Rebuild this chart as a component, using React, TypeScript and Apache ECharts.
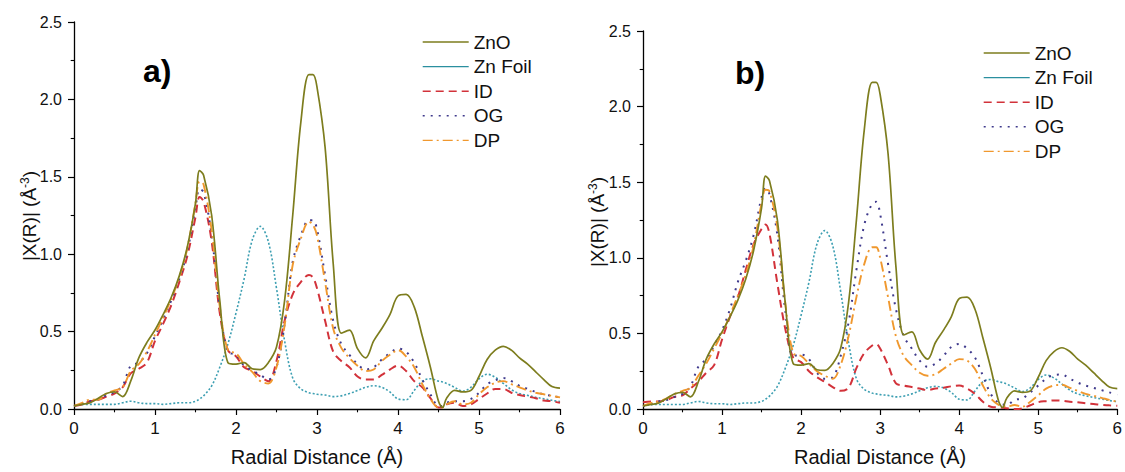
import React, { useEffect, useRef } from "react";
import * as echarts from "echarts";

// Radial distance grid (Å)
const R = [
  0.0, 0.1, 0.2, 0.3, 0.4, 0.5, 0.6, 0.7, 0.8, 0.9,
  1.0, 1.1, 1.2, 1.3, 1.4, 1.5, 1.55, 1.6, 1.7, 1.8, 1.9,
  2.0, 2.1, 2.2, 2.3, 2.4, 2.5, 2.6, 2.7, 2.8, 2.9, 2.95,
  3.0, 3.1, 3.2, 3.3, 3.4, 3.5, 3.6, 3.7, 3.8, 3.9,
  4.0, 4.1, 4.2, 4.3, 4.4, 4.5, 4.55, 4.6, 4.7, 4.8, 4.9,
  5.0, 5.1, 5.2, 5.3, 5.4, 5.5, 5.6, 5.7, 5.8, 5.9,
  6.0,
];

// Reference spectra (identical in both panels)
const ZNO = [
  0.02, 0.03, 0.04, 0.07, 0.10, 0.11, 0.08, 0.18, 0.33, 0.43,
  0.51, 0.61, 0.72, 0.86, 1.05, 1.33, 1.54, 1.51, 1.25, 0.70, 0.30,
  0.29, 0.30, 0.26, 0.255, 0.30, 0.40, 0.70, 1.25, 1.85, 2.16, 2.16,
  2.08, 1.69, 0.94, 0.49, 0.51, 0.39, 0.33, 0.44, 0.52, 0.61,
  0.73, 0.74, 0.66, 0.47, 0.27, 0.05, 0.01, 0.07, 0.12, 0.11, 0.12,
  0.21, 0.32, 0.38, 0.405, 0.38, 0.33, 0.29, 0.24, 0.19, 0.145,
  0.135,
];
const ZN_FOIL = [
  0.02, 0.03, 0.03, 0.03, 0.03, 0.03, 0.04, 0.05, 0.04, 0.035,
  0.035, 0.03, 0.035, 0.04, 0.04, 0.05, 0.065, 0.085, 0.15, 0.27, 0.42,
  0.62, 0.84, 1.09, 1.18, 1.08, 0.78, 0.44, 0.20, 0.13, 0.105, 0.10,
  0.095, 0.09, 0.08, 0.085, 0.10, 0.12, 0.14, 0.15, 0.14, 0.11,
  0.065, 0.06, 0.12, 0.18, 0.195, 0.18, 0.175, 0.165, 0.14, 0.115, 0.14,
  0.195, 0.225, 0.205, 0.165, 0.125, 0.10, 0.088, 0.076, 0.066, 0.056,
  0.048,
];

// Panel a)
const ID_A = [
  0.02, 0.03, 0.05, 0.06, 0.08, 0.10, 0.14, 0.23, 0.26, 0.30,
  0.44, 0.55, 0.67, 0.82, 0.99, 1.24, 1.37, 1.34, 1.08, 0.62, 0.38,
  0.34, 0.27, 0.245, 0.21, 0.18, 0.31, 0.57, 0.74, 0.82, 0.865, 0.85,
  0.78, 0.57, 0.37, 0.31, 0.27, 0.21, 0.19, 0.19, 0.22, 0.255,
  0.28, 0.245, 0.18, 0.14, 0.07, 0.01, 0.01, 0.03, 0.04, 0.02, 0.03,
  0.065, 0.10, 0.13, 0.13, 0.105, 0.09, 0.08, 0.07, 0.055, 0.05,
  0.04,
];
const OG_A = [
  0.02, 0.03, 0.05, 0.06, 0.09, 0.11, 0.15, 0.28, 0.30, 0.36,
  0.47, 0.58, 0.70, 0.84, 1.02, 1.30, 1.42, 1.40, 1.12, 0.65, 0.37,
  0.35, 0.28, 0.25, 0.22, 0.19, 0.27, 0.55, 0.95, 1.12, 1.22, 1.22,
  1.16, 0.865, 0.57, 0.42, 0.35, 0.29, 0.255, 0.27, 0.32, 0.36,
  0.39, 0.37, 0.30, 0.19, 0.095, 0.02, 0.02, 0.04, 0.05, 0.05, 0.065,
  0.105, 0.16, 0.185, 0.20, 0.18, 0.15, 0.13, 0.11, 0.095, 0.085,
  0.075,
];
const DP_A = [
  0.02, 0.04, 0.06, 0.06, 0.10, 0.12, 0.14, 0.245, 0.29, 0.37,
  0.48, 0.59, 0.71, 0.85, 1.04, 1.33, 1.47, 1.45, 1.15, 0.66, 0.38,
  0.36, 0.29, 0.24, 0.18, 0.165, 0.27, 0.54, 0.93, 1.10, 1.21, 1.19,
  1.12, 0.82, 0.52, 0.395, 0.33, 0.28, 0.245, 0.255, 0.31, 0.35,
  0.38, 0.34, 0.27, 0.16, 0.065, 0.01, 0.01, 0.03, 0.05, 0.03, 0.04,
  0.095, 0.14, 0.17, 0.18, 0.16, 0.14, 0.12, 0.105, 0.095, 0.085,
  0.075,
];

// Panel b)
const ID_B = [
  0.045, 0.05, 0.05, 0.06, 0.08, 0.09, 0.135, 0.18, 0.24, 0.29,
  0.46, 0.61, 0.74, 0.92, 1.09, 1.19, 1.22, 1.16, 0.83, 0.53, 0.34,
  0.31, 0.25, 0.21, 0.18, 0.145, 0.12, 0.14, 0.27, 0.37, 0.42, 0.43,
  0.40, 0.29, 0.17, 0.155, 0.145, 0.135, 0.125, 0.135, 0.14, 0.15,
  0.155, 0.135, 0.10, 0.048, 0.015, 0.01, 0.008, 0.005, 0.0, 0.005, 0.025,
  0.045, 0.052, 0.057, 0.055, 0.048, 0.045, 0.037, 0.033, 0.028, 0.024,
  0.022,
];
const OG_B = [
  0.02, 0.03, 0.05, 0.06, 0.08, 0.10, 0.15, 0.28, 0.33, 0.42,
  0.52, 0.66, 0.84, 0.98, 1.15, 1.40, 1.46, 1.42, 1.15, 0.65, 0.35,
  0.36, 0.33, 0.24, 0.20, 0.21, 0.35, 0.57, 0.92, 1.22, 1.36, 1.37,
  1.29, 0.96, 0.66, 0.48, 0.40, 0.32, 0.28, 0.30, 0.35, 0.41,
  0.43, 0.40, 0.34, 0.22, 0.10, 0.037, 0.03, 0.026, 0.06, 0.07, 0.11,
  0.155, 0.20, 0.225, 0.228, 0.20, 0.175, 0.155, 0.14, 0.125, 0.11,
  0.095,
];
const DP_B = [
  0.02, 0.04, 0.05, 0.07, 0.10, 0.12, 0.14, 0.22, 0.30, 0.40,
  0.50, 0.62, 0.75, 0.89, 1.08, 1.36, 1.45, 1.44, 1.20, 0.70, 0.37,
  0.35, 0.30, 0.25, 0.22, 0.20, 0.29, 0.48, 0.74, 0.96, 1.07, 1.07,
  1.00, 0.74, 0.48, 0.35, 0.29, 0.24, 0.22, 0.23, 0.265, 0.30,
  0.33, 0.32, 0.265, 0.155, 0.07, 0.026, 0.02, 0.015, 0.026, 0.015, 0.048,
  0.09, 0.135, 0.155, 0.16, 0.14, 0.12, 0.10, 0.087, 0.074, 0.06,
  0.048,
];

const SERIES_NAMES = ["ZnO", "Zn Foil", "ID", "OG", "DP"];
const PANEL_LABELS = ["a)", "b)"];
const X_TITLE = "Radial Distance (Å)";

const FONT = '"Liberation Sans", Arial, Helvetica, sans-serif';

const COLORS: Record<string, string> = {
  ZnO: "#7d7d1e",
  "Zn Foil": "#3d9fb2",
  ID: "#d2323a",
  OG: "#3f3a8c",
  DP: "#f0982e",
};

const LINE_STYLES: Record<string, any> = {
  ZnO: { width: 1.7, type: "solid" },
  "Zn Foil": { width: 1.6, type: [2, 2] },
  ID: { width: 2, type: [8, 5] },
  OG: { width: 2, type: [2, 6] },
  DP: { width: 1.9, type: [10, 4, 2, 4] },
};

const zip = (ys: number[]) => R.map((x, i) => [x, ys[i]]);

export default function App() {
  const ref = useRef<HTMLDivElement>(null);

  useEffect(() => {
    if (!ref.current) return;
    const chart = echarts.init(ref.current, undefined, { renderer: "svg" });

    const grids = [
      { left: 74, top: 22, width: 486, height: 389.5 },
      { left: 643, top: 31, width: 475, height: 383 },
    ];

    const panelData = [
      { ZnO: ZNO, "Zn Foil": ZN_FOIL, ID: ID_A, OG: OG_A, DP: DP_A },
      { ZnO: ZNO, "Zn Foil": ZN_FOIL, ID: ID_B, OG: OG_B, DP: DP_B },
    ];

    const axisLineStyle = { color: "#000", width: 1.3 };

    const xAxes = grids.map((_, gi) => ({
      type: "value",
      gridIndex: gi,
      min: 0,
      max: 6,
      interval: 1,
      axisLine: { show: true, onZero: false, lineStyle: axisLineStyle },
      axisTick: { show: true, length: 6, lineStyle: { color: "#000", width: 1.2 } },
      minorTick: { show: true, splitNumber: 2, length: 3.3, lineStyle: { color: "#000", width: 1.1 } },
      splitLine: { show: false },
      axisLabel: { fontSize: 17, color: "#111", fontFamily: FONT, margin: 11 },
      name: X_TITLE,
      nameLocation: "middle",
      nameGap: 38,
      nameTextStyle: { fontSize: 20, color: "#111", fontFamily: FONT },
    }));

    const yAxes = grids.map((_, gi) => ({
      type: "value",
      gridIndex: gi,
      min: 0,
      max: 2.5,
      interval: 0.5,
      axisLine: { show: true, onZero: false, lineStyle: axisLineStyle },
      axisTick: { show: true, length: 6, lineStyle: { color: "#000", width: 1.2 } },
      minorTick: { show: true, splitNumber: 2, length: 3.3, lineStyle: { color: "#000", width: 1.1 } },
      splitLine: { show: false },
      axisLabel: {
        fontSize: 16,
        color: "#111",
        fontFamily: FONT,
        margin: 12,
        formatter: (v: number) => v.toFixed(1),
      },
    }));

    const series: any[] = [];
    panelData.forEach((pd, gi) => {
      SERIES_NAMES.forEach((name) => {
        series.push({
          type: "line",
          name,
          xAxisIndex: gi,
          yAxisIndex: gi,
          data: zip((pd as any)[name]),
          symbol: "none",
          smooth: 0.35,
          color: COLORS[name],
          lineStyle: { ...LINE_STYLES[name], color: COLORS[name] },
          z: name === "ZnO" ? 3 : 2,
        });
      });
    });

    const legendData = SERIES_NAMES.map((name) =>
      name === "Zn Foil"
        ? { name, lineStyle: { type: "solid", color: "#2b8f9f" } }
        : { name }
    );

    const legendBase = {
      orient: "vertical",
      itemWidth: 46,
      itemHeight: 12,
      itemGap: 4.6,
      selectedMode: false,
      itemStyle: { opacity: 0 },
      lineStyle: { width: 1.4 },
      textStyle: { fontSize: 19, lineHeight: 20, color: "#111", fontFamily: FONT },
      data: legendData,
    };

    const yTitle = (x: number, y: number) => ({
      type: "text",
      x,
      y,
      rotation: Math.PI / 2,
      style: {
        text: "|X(R)| (Å{sup|-3})",
        fontSize: 19,
        lineHeight: 20,
        fontFamily: FONT,
        fill: "#111",
        align: "center",
        verticalAlign: "middle",
        rich: {
          sup: { fontSize: 12, lineHeight: 12, fontFamily: FONT, fill: "#111", verticalAlign: "top" },
        },
      },
    });

    const panelLabel = (text: string, x: number, y: number) => ({
      type: "text",
      x,
      y,
      style: {
        text,
        font: `bold 32px ${FONT}`,
        fill: "#000",
        align: "left",
        verticalAlign: "top",
      },
    });

    chart.setOption({
      animation: false,
      backgroundColor: "#fff",
      grid: grids.map((g) => ({ ...g, containLabel: false })),
      xAxis: xAxes,
      yAxis: yAxes,
      legend: [
        { ...legendBase, left: 417, top: 27 },
        { ...legendBase, left: 978, top: 38 },
      ],
      graphic: [
        panelLabel(PANEL_LABELS[0], 143, 55),
        panelLabel(PANEL_LABELS[1], 735, 57),
        yTitle(29, 216),
        yTitle(597, 222),
      ],
      series,
    });

    return () => chart.dispose();
  }, []);

  return (
    <div
      ref={ref}
      style={{ position: "fixed", left: 0, top: 0, width: 1125, height: 472, background: "#fff" }}
    />
  );
}
